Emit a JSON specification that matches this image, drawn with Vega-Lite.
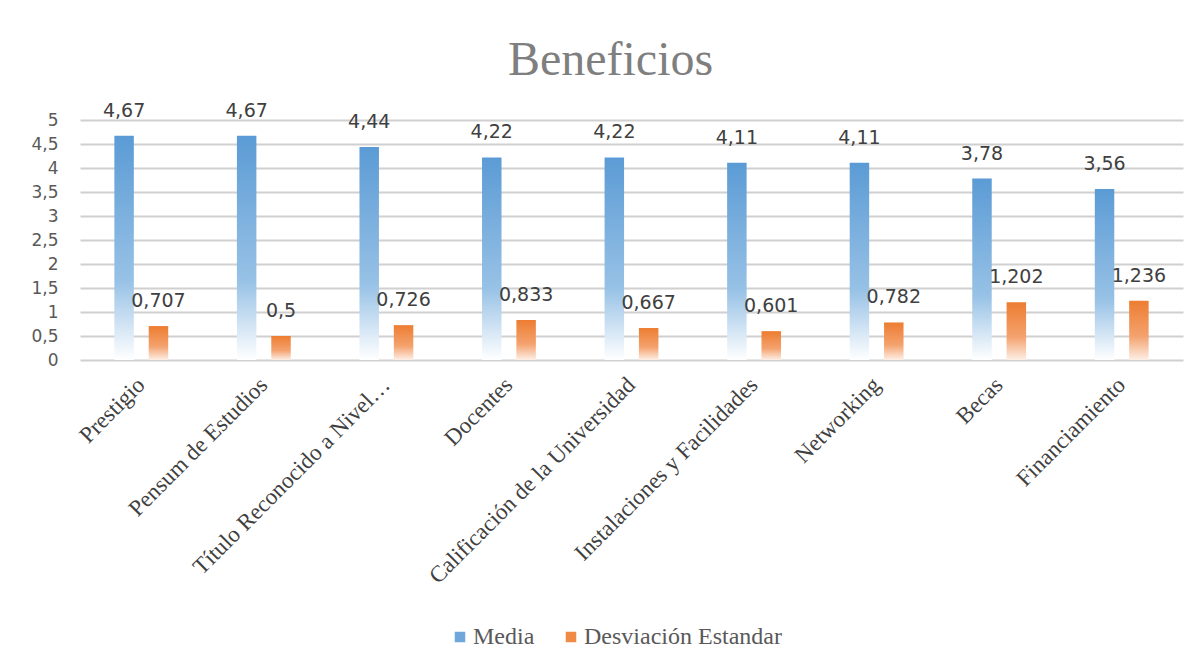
{
  "$schema": "https://vega.github.io/schema/vega-lite/v6.json",
  "width": 1103,
  "height": 240,
  "autosize": {"type": "none"},
  "padding": {"left": 80, "top": 120, "right": 20, "bottom": 311},
  "background": "white",
  "config": {
    "locale": {"number": {"decimal": ",", "thousands": ".", "grouping": [3], "currency": ["", " €"]}},
    "view": {"stroke": null}
  },
  "title": {
    "text": "Beneficios",
    "font": "Liberation Serif",
    "fontSize": 48,
    "fontWeight": "normal",
    "color": "#7F7F7F",
    "anchor": "middle",
    "dx": -21,
    "offset": 17
  },
  "data": {
    "values": [
      {"cat": "Prestigio", "serie": "Media", "v": 4.67},
      {"cat": "Prestigio", "serie": "Desviación Estandar", "v": 0.707},
      {"cat": "Pensum de Estudios", "serie": "Media", "v": 4.67},
      {"cat": "Pensum de Estudios", "serie": "Desviación Estandar", "v": 0.5},
      {"cat": "Título Reconocido a Nivel…", "serie": "Media", "v": 4.44},
      {"cat": "Título Reconocido a Nivel…", "serie": "Desviación Estandar", "v": 0.726},
      {"cat": "Docentes", "serie": "Media", "v": 4.22},
      {"cat": "Docentes", "serie": "Desviación Estandar", "v": 0.833},
      {"cat": "Calificación de la Universidad", "serie": "Media", "v": 4.22},
      {"cat": "Calificación de la Universidad", "serie": "Desviación Estandar", "v": 0.667},
      {"cat": "Instalaciones y Facilidades", "serie": "Media", "v": 4.11},
      {"cat": "Instalaciones y Facilidades", "serie": "Desviación Estandar", "v": 0.601},
      {"cat": "Networking", "serie": "Media", "v": 4.11},
      {"cat": "Networking", "serie": "Desviación Estandar", "v": 0.782},
      {"cat": "Becas", "serie": "Media", "v": 3.78},
      {"cat": "Becas", "serie": "Desviación Estandar", "v": 1.202},
      {"cat": "Financiamiento", "serie": "Media", "v": 3.56},
      {"cat": "Financiamiento", "serie": "Desviación Estandar", "v": 1.236}
    ]
  },
  "encoding": {
    "x": {
      "field": "cat",
      "type": "nominal",
      "sort": null,
      "scale": {"paddingInner": 0, "paddingOuter": 0},
      "axis": {
        "title": null,
        "domain": false,
        "ticks": false,
        "labelAngle": -45,
        "labelAlign": "right",
        "labelBaseline": "middle",
        "labelFont": "Liberation Serif",
        "labelFontSize": 23,
        "labelColor": "#404040",
        "labelPadding": 21,
        "labelLimit": 400
      }
    },
    "xOffset": {
      "field": "serie",
      "type": "nominal",
      "sort": ["Media", "Desviación Estandar"],
      "scale": {"paddingInner": 0.433, "paddingOuter": 1.046}
    },
    "y": {
      "field": "v",
      "type": "quantitative",
      "scale": {"domain": [0, 5]},
      "axis": {
        "title": null,
        "values": [0, 0.5, 1, 1.5, 2, 2.5, 3, 3.5, 4, 4.5, 5],
        "format": "~g",
        "domain": false,
        "ticks": false,
        "labelFont": "DejaVu Sans",
        "labelFontSize": 17,
        "labelColor": "#595959",
        "labelPadding": 22,
        "gridColor": "#D0D0D0",
        "gridWidth": 1.8
      }
    }
  },
  "layer": [
    {
      "mark": {"type": "bar", "opacity": 0},
      "encoding": {
        "color": {
          "field": "serie",
          "type": "nominal",
          "sort": ["Media", "Desviación Estandar"],
          "scale": {
            "domain": ["Media", "Desviación Estandar"],
            "range": ["#6FA7DA", "#EF8A47"]
          },
          "legend": {
            "title": null,
            "orient": "none",
            "direction": "horizontal",
            "legendX": 368,
            "legendY": 505,
            "symbolType": "square",
            "symbolSize": 110,
            "symbolOpacity": 1,
            "symbolStrokeWidth": 0,
            "labelFont": "Liberation Serif",
            "labelFontSize": 24,
            "labelColor": "#595959",
            "labelOffset": 1,
            "labelLimit": 400,
            "columnPadding": 24
          }
        }
      }
    },
    {
      "mark": {"type": "bar"},
      "encoding": {
        "fill": {
          "condition": {
            "test": "datum.serie === 'Media'",
            "value": {"gradient": "linear", "x1": 0, "y1": 0, "x2": 0, "y2": 1,
              "stops": [{"offset": 0, "color": "#5B9BD5"}, {"offset": 0.65, "color": "#98C2E6"}, {"offset": 1, "color": "#FFFFFF"}]}
          },
          "value": {"gradient": "linear", "x1": 0, "y1": 0, "x2": 0, "y2": 1,
            "stops": [{"offset": 0, "color": "#ED7D31"}, {"offset": 0.6, "color": "#F4A26E"}, {"offset": 1, "color": "#FDEFE6"}]}
        }
      }
    },
    {
      "mark": {"type": "text", "baseline": "bottom", "dy": -15, "font": "DejaVu Sans", "fontSize": 19, "color": "#404040"},
      "encoding": {
        "text": {"field": "v", "type": "quantitative", "format": ".4~g"}
      }
    }
  ]
}
